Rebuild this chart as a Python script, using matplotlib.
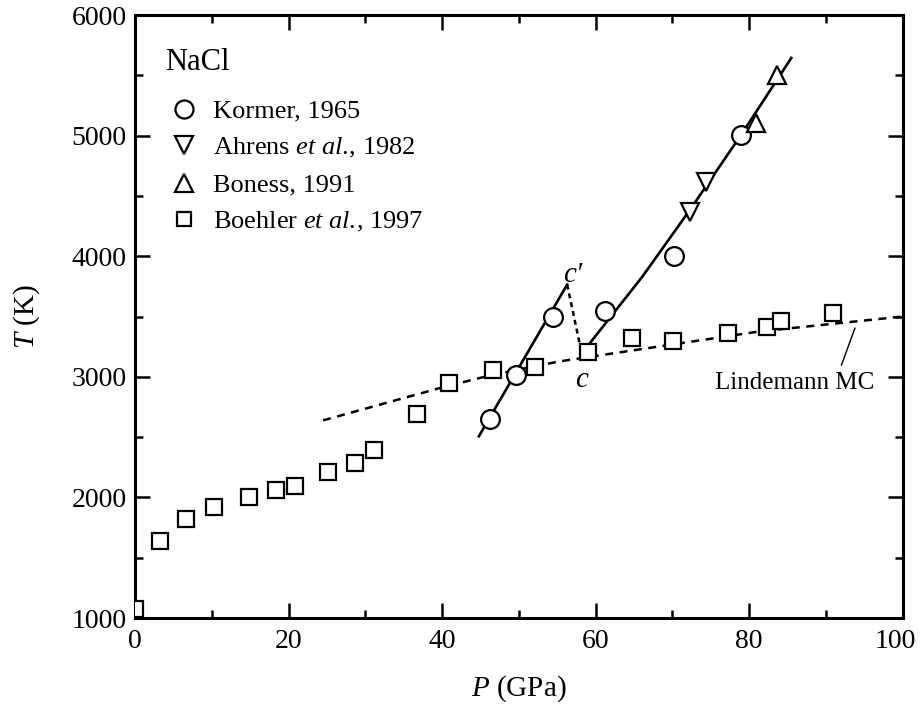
import matplotlib
matplotlib.use("Agg")
import matplotlib.pyplot as plt
from matplotlib.lines import Line2D
from matplotlib.transforms import ScaledTranslation

plt.rcParams['font.family'] = ['Liberation Serif', 'DejaVu Serif']
plt.rcParams['mathtext.fontset'] = 'custom'
plt.rcParams['mathtext.rm'] = 'Liberation Serif'
plt.rcParams['mathtext.it'] = 'Liberation Serif:italic'

# Measured melting data for NaCl (P in GPa, T in K)
kormer_p = [46.2, 49.7, 54.4, 61.2, 70.2, 78.9]
kormer_t = [2647, 3012, 3500, 3550, 4005, 5007]

ahrens_p = [72.3, 74.4]
ahrens_t = [4370, 4617]

boness_p = [80.9, 83.7]
boness_t = [5106, 5503]

boehler_p = [0.0, 3.3, 6.7, 10.3, 14.8, 18.4, 20.9, 25.2, 28.7, 31.1, 36.8,
             40.9, 46.7, 52.1, 59.0, 64.8, 70.1, 77.3, 82.4, 84.1, 90.9]
boehler_t = [1075, 1637, 1820, 1920, 2000, 2060, 2093, 2210, 2283, 2390, 2690,
             2945, 3060, 3078, 3210, 3326, 3293, 3360, 3417, 3467, 3533]

# Shock-wave melting branches and the c'-c jump
branch1_p = [44.8, 56.3]
branch1_t = [2507, 3765]
jump_p = [56.3, 58.2]
jump_t = [3765, 3194]
branch2_p = [58.2, 62.0, 66.1, 72.3, 78.9, 85.5]
branch2_t = [3194, 3500, 3831, 4385, 5000, 5644]

# Lindemann Monte Carlo melting curve
lind_p = [24.5, 40.0, 45.7, 55.2, 81.3, 100.0]
lind_t = [2639, 2912, 3003, 3127, 3376, 3500]

fig = plt.figure(figsize=(9.21, 7.09), dpi=100)
ax = fig.add_axes([0.1466, 0.1283, 0.8334, 0.8505])

lw = 1.9
ax.plot(branch1_p, branch1_t, color='black', lw=lw, zorder=2)
ax.plot(branch2_p, branch2_t, color='black', lw=lw, zorder=2)
ax.plot(jump_p, jump_t, color='black', lw=1.8, ls=(0, (2, 1.6)), zorder=2)
ax.plot(lind_p, lind_t, color='black', lw=1.8, ls=(0, (3.2, 2.6)), zorder=2)

mk = dict(ls='none', markerfacecolor='white', markeredgecolor='black',
          markeredgewidth=1.6, zorder=3)
ax.plot(boehler_p, boehler_t, marker='s', markersize=11.3, **mk)
ax.plot(kormer_p, kormer_t, marker='o', markersize=13.5, **mk)
ax.plot(ahrens_p, ahrens_t, marker='v', markersize=13, **mk)
ax.plot(boness_p, boness_t, marker='^', markersize=13, **mk)

ax.set_xlim(0, 100)
ax.set_ylim(1000, 6000)
ax.set_xticks(range(0, 101, 20))
ax.set_xticks(range(10, 100, 20), minor=True)
ax.set_yticks(range(1000, 6001, 1000))
ax.set_yticks(range(1500, 6000, 1000), minor=True)
ax.tick_params(which='both', direction='in', top=True, right=True,
               labelsize=20, width=1.8)
ax.tick_params(axis='x', pad=8)
ax.tick_params(axis='y', pad=6)
ax.tick_params(which='major', length=11)
ax.tick_params(which='minor', length=6)
for s in ax.spines.values():
    s.set_linewidth(2.2)

# keep the right-most x tick label inside the canvas
fig.canvas.draw()
last = ax.get_xticklabels()[-1]
last.set_transform(last.get_transform() +
                   ScaledTranslation(-7 / 100, 0, fig.dpi_scale_trans))

ax.set_xlabel('$P$ (GPa)', fontsize=21, labelpad=14)
ax.set_ylabel('$T$ (K)', fontsize=21, labelpad=21)

ax.text(3.9, 5610, 'NaCl', fontsize=22, va='center', ha='left')
handles = [
    Line2D([], [], marker='o', markersize=13, **mk),
    Line2D([], [], marker='v', markersize=13, **mk),
    Line2D([], [], marker='^', markersize=13, **mk),
    Line2D([], [], marker='s', markersize=10, **mk),
]
labels = ['Kormer, 1965', r'Ahrens $et\ al.\!$, 1982', 'Boness, 1991',
          r'Boehler $et\ al.\!$, 1997']
ax.legend(handles, labels, loc='upper left', bbox_to_anchor=(0.046, 0.860),
          frameon=False, fontsize=19, handlelength=1.0, handletextpad=0.6,
          labelspacing=0.5, borderaxespad=0, borderpad=0)

ax.text(57.0, 3740, "c\u2032", fontsize=21, style='italic',
        ha='center', va='bottom')
ax.text(58.2, 3080, 'c', fontsize=21, style='italic', ha='center', va='top')

ax.annotate('Lindemann MC', xy=(93.8, 3405), xytext=(85.9, 2949),
            fontsize=18, ha='center', va='center',
            arrowprops=dict(arrowstyle='-', color='black', lw=1.0,
                            relpos=(0.78, 1.0), shrinkA=3, shrinkB=0))

fig.savefig('out.png', dpi=100)
